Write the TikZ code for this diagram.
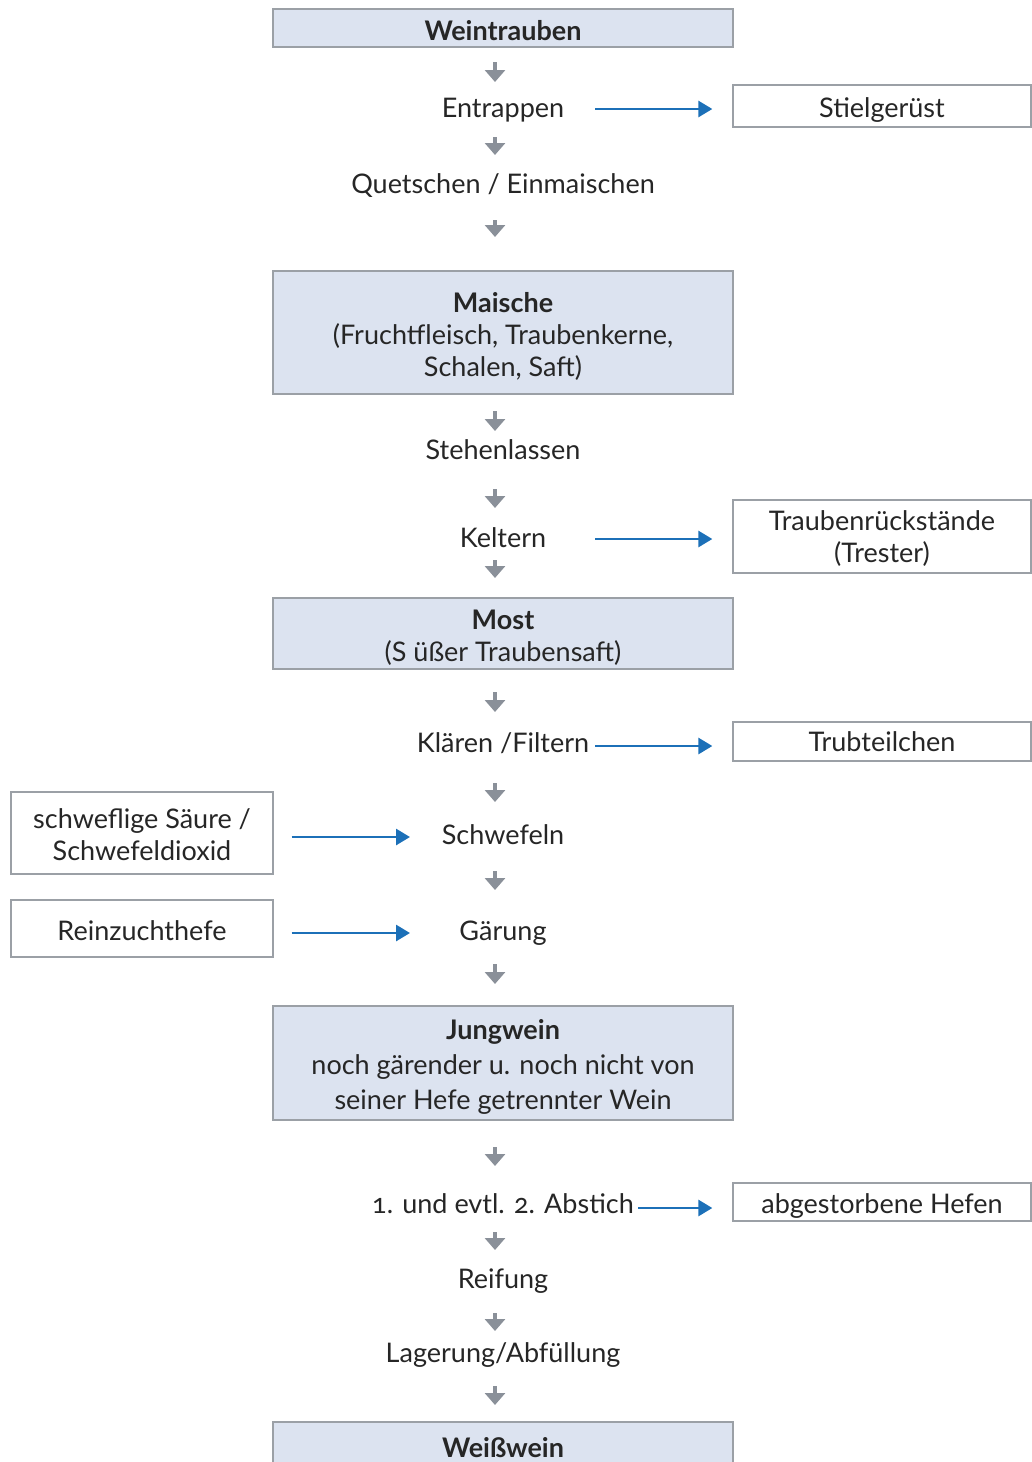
\documentclass[tikz,border=0pt]{standalone}
\usepackage{fontspec}
\setmainfont{Lato}[Numbers=OldStyle]
\usetikzlibrary{arrows.meta}
\definecolor{boxfill}{HTML}{DCE3F0}
\definecolor{boxline}{HTML}{9BA0A6}
\definecolor{grayarr}{HTML}{8A9099}
\definecolor{bluearr}{HTML}{1C70B8}
\definecolor{txt}{HTML}{262626}
\begin{document}
\begin{tikzpicture}[x=1pt,y=-1pt,
  every node/.style={text=txt, font=\fontsize{27}{32}\selectfont, inner sep=0pt, align=center},
  mainbox/.style={draw=boxline, fill=boxfill, line width=1.3pt, minimum width=460pt},
  sidebox/.style={draw=boxline, fill=white, line width=1.3pt, minimum width=298pt},
  leftbox/.style={draw=boxline, fill=white, line width=1.3pt, minimum width=262pt},
  steplabel/.style={anchor=base},
  grayarrow/.style={draw=grayarr, line width=3.2pt, -{Triangle[width=20pt,length=12pt]}},
  bluearrow/.style={draw=bluearr, line width=2.8pt, -{Triangle[width=16pt,length=14pt]}}]
\useasboundingbox (0,0) rectangle (1031,1462);

% main column boxes
\node[mainbox, minimum height=38pt] (wein) at (503,28) {};
\node[steplabel] (weint) at (503,40) {\textbf{Weintrauben}};
\node[mainbox, minimum height=123pt] (maische) at (503,332.5) {};
\node (maischet) at (503,336) {\textbf{Maische}\\(Fruchtfleisch, Traubenkerne,\\Schalen, Saft)};
\node[mainbox, minimum height=71pt] (most) at (503,633.5) {};
\node (mostt) at (503,637.5) {\textbf{Most}\\(S üßer Traubensaft)};
\node[mainbox, minimum height=114pt] (jung) at (503,1063) {};
\node[font=\fontsize{27}{35}\selectfont] (jungt) at (503,1067) {\textbf{Jungwein}\\noch gärender u. noch nicht von\\seiner Hefe getrennter Wein};
\node[mainbox, minimum height=60pt] (weiss) at (503,1452) {};
\node[steplabel] (weisst) at (503,1457) {\textbf{Weißwein}};

% step labels
\node[steplabel] (entr) at (503,117) {Entrappen};
\node[steplabel] (quet) at (503,193) {Quetschen / Einmaischen};
\node[steplabel] (steh) at (503,459) {Stehenlassen};
\node[steplabel] (kelt) at (503,547) {Keltern};
\node[steplabel] (klae) at (503,752) {Klären /Filtern};
\node[steplabel] (schw) at (503,844) {Schwefeln};
\node[steplabel] (gaer) at (503,940) {Gärung};
\node[steplabel] (abst) at (503,1213) {1. und evtl. 2. Abstich};
\node[steplabel] (reif) at (503,1288) {Reifung};
\node[steplabel] (lage) at (503,1362) {Lagerung/Abfüllung};

% side boxes
\node[sidebox, minimum height=42pt] (stiel) at (882,106) {};
\node[steplabel] (stielt) at (882,117) {Stielgerüst};
\node[sidebox, minimum height=73pt] (trest) at (882,536.5) {};
\node (trestt) at (882,538.5) {Traubenrückstände\\(Trester)};
\node[sidebox, minimum height=39pt] (trub) at (882,741.5) {};
\node[steplabel] (trubt) at (882,751) {Trubteilchen};
\node[sidebox, minimum height=38pt] (hefen) at (882,1202) {};
\node[steplabel] (hefent) at (882,1213) {abgestorbene Hefen};
\node[leftbox, minimum height=82pt] (saeure) at (142,833) {};
\node (saeuret) at (142,835) {schweflige Säure /\\Schwefeldioxid};
\node[leftbox, minimum height=57pt] (rein) at (142,928.5) {};
\node[steplabel] (reint) at (142,940) {Reinzuchthefe};

% gray arrows (short, in main column)
\foreach \i/\a/\b in {1/62/82, 2/137/155, 3/220/237, 4/411/431, 5/489/508, 6/560/578, 7/692/712, 8/783/802, 9/871/890, 10/964/984, 11/1147/1166, 12/1232/1250, 13/1313/1331, 14/1386/1405}{
  \coordinate (gs\i) at (495,\a);
  \coordinate (ge\i) at (495,\b);
  \draw[grayarrow] (gs\i) -- (ge\i);
}

% blue arrows
\coordinate (b1) at (595,109);
\coordinate (b2) at (595,539);
\coordinate (b3) at (595,746);
\coordinate (b6) at (638,1208);
\draw[bluearrow] (b1) -- ([xshift=-20pt]stiel.west |- b1);
\draw[bluearrow] (b2) -- ([xshift=-20pt]trest.west |- b2);
\draw[bluearrow] (b3) -- ([xshift=-20pt]trub.west |- b3);
\draw[bluearrow] (b6) -- ([xshift=-20pt]hefen.west |- b6);
\coordinate (b4) at (410,837);
\coordinate (b5) at (410,933);
\draw[bluearrow] ([xshift=18pt]saeure.east |- b4) -- (b4);
\draw[bluearrow] ([xshift=18pt]rein.east |- b5) -- (b5);
\end{tikzpicture}
\end{document}
